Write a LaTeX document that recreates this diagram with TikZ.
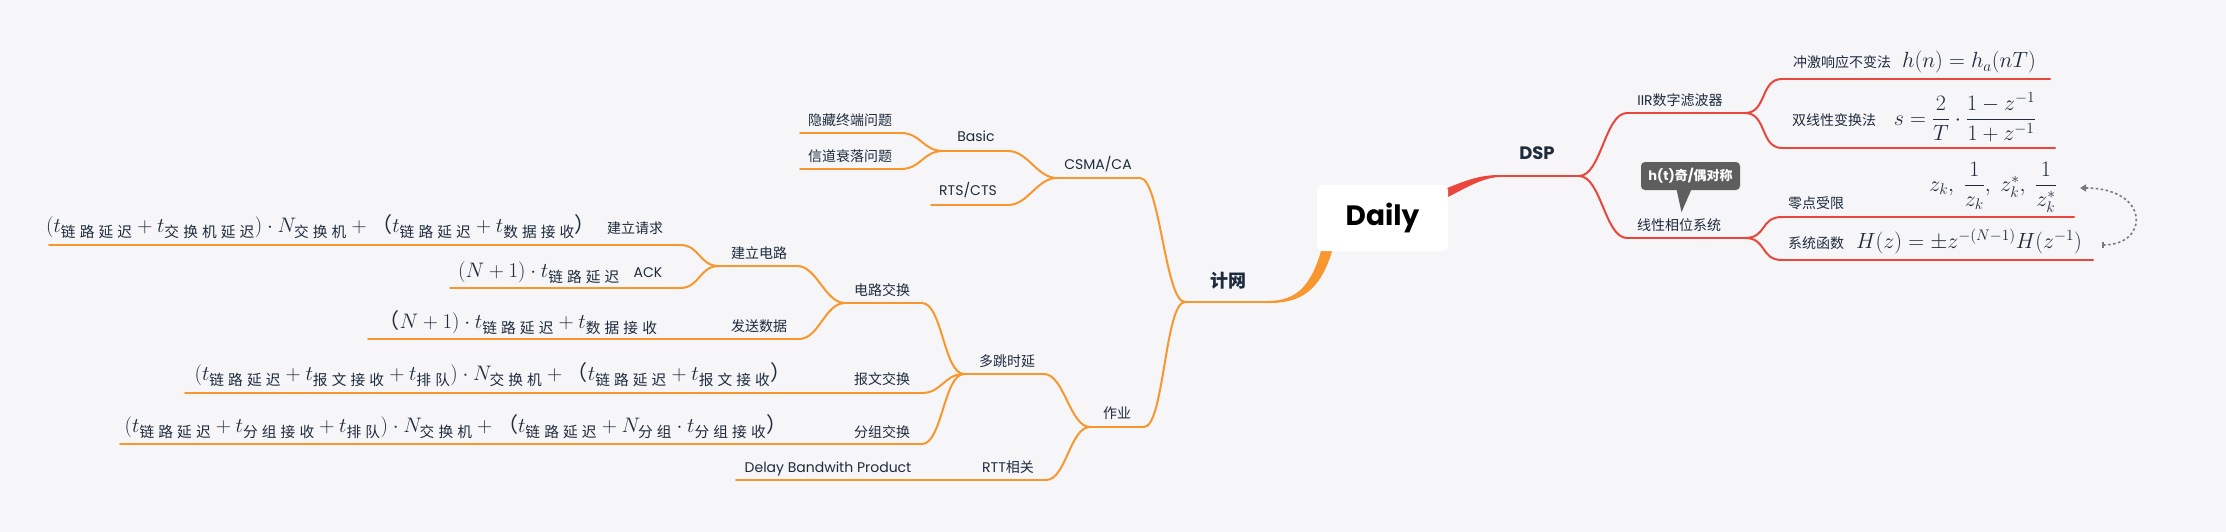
\RequirePackage{fix-cm}
\documentclass[tikz,border=0pt]{standalone}
\usepackage{amsmath}
\usepackage{fontspec}
\setmainfont{Poppins}
\newfontfamily\cjk{Noto Sans CJK SC}
\newfontfamily\cjksp[LetterSpace=28]{Noto Sans CJK SC}
\usetikzlibrary{arrows.meta, calc, positioning}

\definecolor{bgc}{HTML}{F6F6F9}
\definecolor{ink}{HTML}{1E2B3C}
\definecolor{dspred}{HTML}{E9473B}
\definecolor{netorg}{HTML}{F8972E}
\definecolor{tipgray}{HTML}{5E5E5E}
\definecolor{lnkgray}{HTML}{7A7A7A}

% spaced CJK subscript / full-width bracket inside math
\newcommand{\zs}[1]{\text{\cjksp #1}}
\newcommand{\zp}[1]{\text{\cjk #1}}

\begin{document}
\begin{tikzpicture}[x=1pt, y=-1pt,
  lbl/.style={font=\fontsize{14}{16}\selectfont, text=ink, inner sep=0pt, anchor=base},
  zlbl/.style={lbl, font=\fontsize{14}{16}\selectfont\cjk},
  fml/.style={font=\fontsize{21}{25}\selectfont, text=ink, inner sep=0pt, anchor=base},
  fmr/.style={fml, font=\fontsize{22}{26}\selectfont},
  head/.style={font=\fontsize{18}{20}\selectfont\bfseries, text=ink, inner sep=0pt, anchor=base},
  root/.style={fill=white, rounded corners=5pt, minimum width=131pt, minimum height=66pt, inner sep=0pt, font=\fontsize{28}{30}\selectfont\bfseries},
  rline/.style={draw=dspred, line width=2pt, line cap=round},
  oline/.style={draw=netorg, line width=2pt, line cap=round},
  tipbox/.style={fill=tipgray, rounded corners=4pt, minimum width=99pt, minimum height=28pt, inner sep=0pt, text=white, font=\fontsize{13}{15}\selectfont\bfseries},
  link/.style={draw=lnkgray, line width=1.6pt, dash pattern=on 2.5pt off 2.5pt}
]
\useasboundingbox (0,0) rectangle (2226,532);
\fill[bgc] (0,0) rectangle (2226,532);

% DSP side
\coordinate (dsp-a) at (1500,176);
\coordinate (dsp-b) at (1579,176);
\coordinate (iir-a) at (1627,113);
\coordinate (iir-b) at (1745,113);
\coordinate (cj-a) at (1782,79);
\coordinate (cj-b) at (2050,79);
\coordinate (sx-a) at (1782,148);
\coordinate (sx-b) at (2055,148);
\coordinate (lp-a) at (1627,238);
\coordinate (lp-b) at (1745,238);
\coordinate (ld-a) at (1782,217);
\coordinate (ld-b) at (2074,217);
\coordinate (xt-a) at (1782,260);
\coordinate (xt-b) at (2093,260);

% network side
\coordinate (jw-a) at (1267,302);
\coordinate (jw-b) at (1185,302);
\coordinate (csma-a) at (1140,178);
\coordinate (csma-b) at (1057,178);
\coordinate (basic-a) at (1008,151);
\coordinate (basic-b) at (943,151);
\coordinate (hid-a) at (901,133);
\coordinate (hid-b) at (800,133);
\coordinate (fad-a) at (901,169);
\coordinate (fad-b) at (800,169);
\coordinate (rts-a) at (1008,205);
\coordinate (rts-b) at (931,205);
\coordinate (hw-a) at (1144,427);
\coordinate (hw-b) at (1090,427);
\coordinate (dt-a) at (1044,374);
\coordinate (dt-b) at (964,374);
\coordinate (cs-a) at (922,303);
\coordinate (cs-b) at (845,303);
\coordinate (jl-a) at (797,266);
\coordinate (jl-b) at (719,266);
\coordinate (req-a) at (680,245);
\coordinate (req-b) at (49,245);
\coordinate (ack-a) at (680,288);
\coordinate (ack-b) at (450,288);
\coordinate (fs-a) at (799,339);
\coordinate (fs-b) at (368,339);
\coordinate (bw-a) at (922,393);
\coordinate (bw-b) at (185,393);
\coordinate (fz-a) at (922,444);
\coordinate (fz-b) at (120,444);
\coordinate (rtt-a) at (1046,480);
\coordinate (rtt-b) at (736,480);

% underlines and branches
\foreach \n in {dsp,iir,cj,sx,lp,ld,xt}
  \draw[rline] (\n-a) -- (\n-b);
\foreach \p/\c in {dsp-b/iir-a, dsp-b/lp-a, iir-b/cj-a, iir-b/sx-a, lp-b/ld-a, lp-b/xt-a}
  \draw[rline] (\p) .. controls +(22,0) and +(-22,0) .. (\c);

\foreach \n in {jw,csma,basic,hid,fad,rts,hw,dt,cs,jl,req,ack,fs,bw,fz,rtt}
  \draw[oline] (\n-a) -- (\n-b);
\foreach \p/\c in {jw-b/csma-a, jw-b/hw-a, csma-b/basic-a, csma-b/rts-a, basic-b/hid-a, basic-b/fad-a,
                   hw-b/dt-a, hw-b/rtt-a, dt-b/cs-a, dt-b/bw-a, dt-b/fz-a, cs-b/jl-a, cs-b/fs-a,
                   jl-b/req-a, jl-b/ack-a}
  \draw[oline] (\p) .. controls +(-20,0) and +(20,0) .. (\c);

% root and its two thick branches
\path (1382.5,218) node[root] (daily) {};
\fill[dspred] ($(daily.east)+(-8,-27)$) .. controls (1466,180) and (1480,175) .. ($(dsp-a)+(0,-1)$)
  -- ($(dsp-a)+(0,1)$) .. controls (1482,177.5) and (1466,188) .. ($(daily.east)+(-8,-17)$) -- cycle;
\fill[netorg] ($(daily.south)+(-59.5,-7)$) .. controls (1312,285) and (1298,301) .. ($(jw-a)+(0,-1)$)
  -- ($(jw-a)+(0,1)$) .. controls (1302,303.5) and (1322,290) .. ($(daily.south)+(-48.5,-7)$) -- cycle;
\node[root] at (daily) {Daily};

\node[head] (dsp) at (1537,159) {DSP};
\node[head] (jw) at (1228,287) {\cjk 计网};

% DSP topics
\node[lbl] (iir) at (1680,106) {IIR{\cjk 数字滤波器}};
\node[zlbl] (lp) at (1679,230) {线性相位系统};
\node[zlbl] (cj) at (1842,68) {冲激响应不变法};
\node[fmr] (cj-f) at (1969,68) {$h(n)=h_a(nT)$};
\node[zlbl] (sx) at (1834,125) {双线性变换法};
\node[fmr] (sx-f) at (1965,125) {$s=\dfrac{2}{T}\cdot\dfrac{1-z^{-1}}{1+z^{-1}}$};
\node[zlbl] (ld) at (1816,208) {零点受限};
\node[fmr] (ld-f) at (1993,191) {$z_k,\ \dfrac{1}{z_k},\ z_k^*,\ \dfrac{1}{z_k^*}$};
\node[zlbl] (xt) at (1816,248) {系统函数};
\node[fmr] (xt-f) at (1969,248) {$H(z)=\pm z^{-(N-1)}H(z^{-1})$};

\node[tipbox] (tip) at (1690.5,176) {h(t){\cjk 奇}/{\cjk 偶对称}};
\fill[tipgray] ($(tip.south)+(-14,-1)$) -- ($(tip.south)+(-9,22)$) -- ($(tip.south)+(1,-1)$) -- cycle;

\coordinate (lk-s) at (2102,245);
\coordinate (lk-e) at (2080,188);
\draw[link, {Bar[width=6pt]}-{Triangle[width=7pt,length=6pt]}] (lk-s) .. controls +(48,0) and +(70,0) .. (lk-e);

% network topics
\node[zlbl] (hid) at (850,125) {隐藏终端问题};
\node[zlbl] (fad) at (850,161) {信道衰落问题};
\node[lbl] (basic) at (976,142) {Basic};
\node[lbl] (rts) at (968,195) {RTS/CTS};
\node[lbl] (csma) at (1098,169) {CSMA/CA};
\node[zlbl] (jl) at (759,258) {建立电路};
\node[zlbl] (cs) at (882,295) {电路交换};
\node[zlbl] (fs) at (759,331) {发送数据};
\node[zlbl] (dt) at (1007,366) {多跳时延};
\node[zlbl] (bw) at (882,384) {报文交换};
\node[zlbl] (fz) at (882,437) {分组交换};
\node[zlbl] (hw) at (1117,418) {作业};
\node[lbl] (rtt) at (1008,472) {RTT{\cjk 相关}};
\node[lbl] (dbp) at (828,472) {Delay Bandwith Product};
\node[zlbl] (req) at (635,233) {建立请求};
\node[lbl] (ack) at (648,277) {ACK};

\node[fml] (req-f) at (321,232) {$(t_{\zs{链路延迟}}+t_{\zs{交换机延迟}})\cdot N_{\zs{交换机}}+\zp{（}t_{\zs{链路延迟}}+t_{\zs{数据接收}}\zp{）}$};
\node[fml] (ack-f) at (539,277) {$(N+1)\cdot t_{\zs{链路延迟}}$};
\node[fml] (fs-f) at (518,328) {$\zp{（}N+1)\cdot t_{\zs{链路延迟}}+t_{\zs{数据接收}}$};
\node[fml] (bw-f) at (493,380) {$(t_{\zs{链路延迟}}+t_{\zs{报文接收}}+t_{\zs{排队}})\cdot N_{\zs{交换机}}+\zp{（}t_{\zs{链路延迟}}+t_{\zs{报文接收}}\zp{）}$};
\node[fml] (fz-f) at (456,432) {$(t_{\zs{链路延迟}}+t_{\zs{分组接收}}+t_{\zs{排队}})\cdot N_{\zs{交换机}}+\zp{（}t_{\zs{链路延迟}}+N_{\zs{分组}}\cdot t_{\zs{分组接收}}\zp{）}$};
\end{tikzpicture}
\end{document}
